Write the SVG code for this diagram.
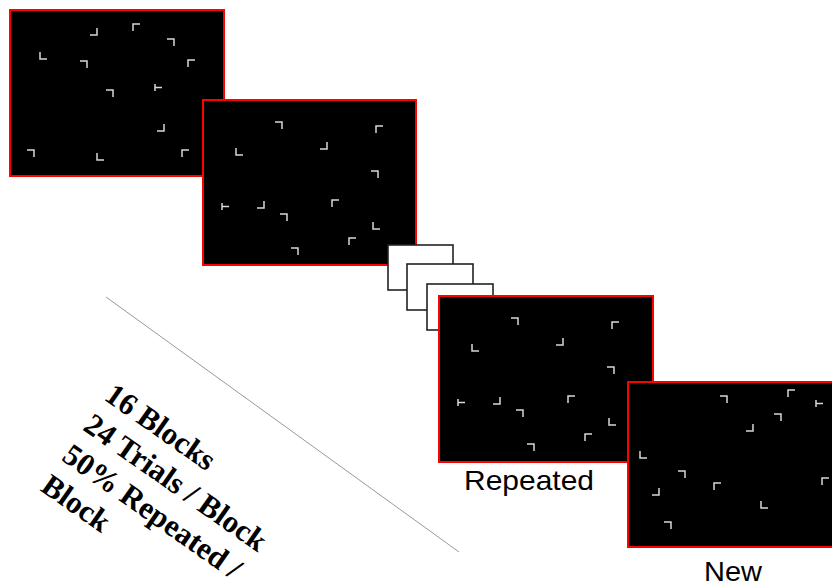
<svg xmlns="http://www.w3.org/2000/svg" xmlns:xlink="http://www.w3.org/1999/xlink" width="832" height="588" viewBox="0 0 832 588">
<style>
.screen{fill:#000;stroke:#f00;stroke-width:2}
.frame{fill:#fff;stroke:#222;stroke-width:1.6}
.st{fill:none;stroke:#d8d8d8;stroke-width:1.5}
.lbl{font-family:"Liberation Sans",Arial,sans-serif;font-size:28px;fill:#000}
.rot{font-family:"Liberation Serif","Times New Roman",serif;font-weight:bold;font-size:31px;fill:#000}
</style>
<defs>
<path id="bl" class="st" d="M0,0V7H7"/>
<path id="br" class="st" d="M7,0V7H0"/>
<path id="tl" class="st" d="M0,7V0H7"/>
<path id="tr" class="st" d="M0,0H7V7"/>
<path id="tt" class="st" d="M0,0V7M0,3.5H7"/>
<g id="rep">
<use xlink:href="#tr" x="75" y="22"/>
<use xlink:href="#tl" x="176" y="26"/>
<use xlink:href="#br" x="120" y="42"/>
<use xlink:href="#bl" x="36" y="48"/>
<use xlink:href="#tr" x="171" y="71"/>
<use xlink:href="#tt" x="22" y="103"/>
<use xlink:href="#br" x="57" y="101"/>
<use xlink:href="#tr" x="80" y="114"/>
<use xlink:href="#tl" x="132" y="100"/>
<use xlink:href="#bl" x="173" y="122"/>
<use xlink:href="#tl" x="149" y="138"/>
<use xlink:href="#tr" x="91" y="148"/>
</g>
</defs>
<g id="connectors">
<line x1="106" y1="297" x2="459" y2="552" stroke="#999" stroke-width="1"/>
</g>
<g id="screen1">
<rect class="screen" x="10" y="10" width="214" height="166"/>
<use xlink:href="#br" x="90" y="28"/>
<use xlink:href="#tl" x="133" y="24"/>
<use xlink:href="#tr" x="167" y="39"/>
<use xlink:href="#bl" x="40" y="52"/>
<use xlink:href="#tr" x="80" y="61"/>
<use xlink:href="#tl" x="188" y="60"/>
<use xlink:href="#tr" x="106" y="90"/>
<use xlink:href="#tt" x="155" y="84"/>
<use xlink:href="#br" x="157" y="124"/>
<use xlink:href="#tr" x="27" y="150"/>
<use xlink:href="#bl" x="97" y="153"/>
<use xlink:href="#tl" x="182" y="150"/>
</g>
<g id="screen2">
<rect class="screen" x="203" y="100" width="213" height="165"/>
<use xlink:href="#rep" transform="translate(200,100)"/>
</g>
<g id="frame1"><rect class="frame" x="388" y="245" width="65" height="45"/></g>
<g id="frame2"><rect class="frame" x="407" y="264" width="66" height="46"/></g>
<g id="frame3"><rect class="frame" x="427" y="284" width="66" height="46"/></g>
<g id="screen3">
<rect class="screen" x="439" y="296" width="214" height="166"/>
<use xlink:href="#rep" transform="translate(436,296)"/>
<text class="lbl" x="464" y="490" textLength="130" lengthAdjust="spacingAndGlyphs">Repeated</text>
</g>
<g id="screen4">
<rect class="screen" x="628" y="382" width="214" height="165"/>
<use xlink:href="#tr" x="720" y="396"/>
<use xlink:href="#tl" x="788" y="390"/>
<use xlink:href="#tt" x="816" y="400"/>
<use xlink:href="#tr" x="774" y="414"/>
<use xlink:href="#br" x="746" y="424"/>
<use xlink:href="#bl" x="640" y="451"/>
<use xlink:href="#tr" x="678" y="471"/>
<use xlink:href="#tl" x="714" y="483"/>
<use xlink:href="#br" x="652" y="488"/>
<use xlink:href="#tl" x="822" y="478"/>
<use xlink:href="#bl" x="761" y="501"/>
<use xlink:href="#tr" x="664" y="522"/>
<text class="lbl" x="704" y="581" textLength="58" lengthAdjust="spacingAndGlyphs">New</text>
</g>
<g id="summary" transform="translate(103,399) rotate(35)">
<text class="rot"><tspan x="0" y="0">16 Blocks</tspan><tspan x="0" y="37">24 Trials / Block</tspan><tspan x="0" y="74">50% Repeated /</tspan><tspan x="0" y="111">Block</tspan></text>
</g>
</svg>
